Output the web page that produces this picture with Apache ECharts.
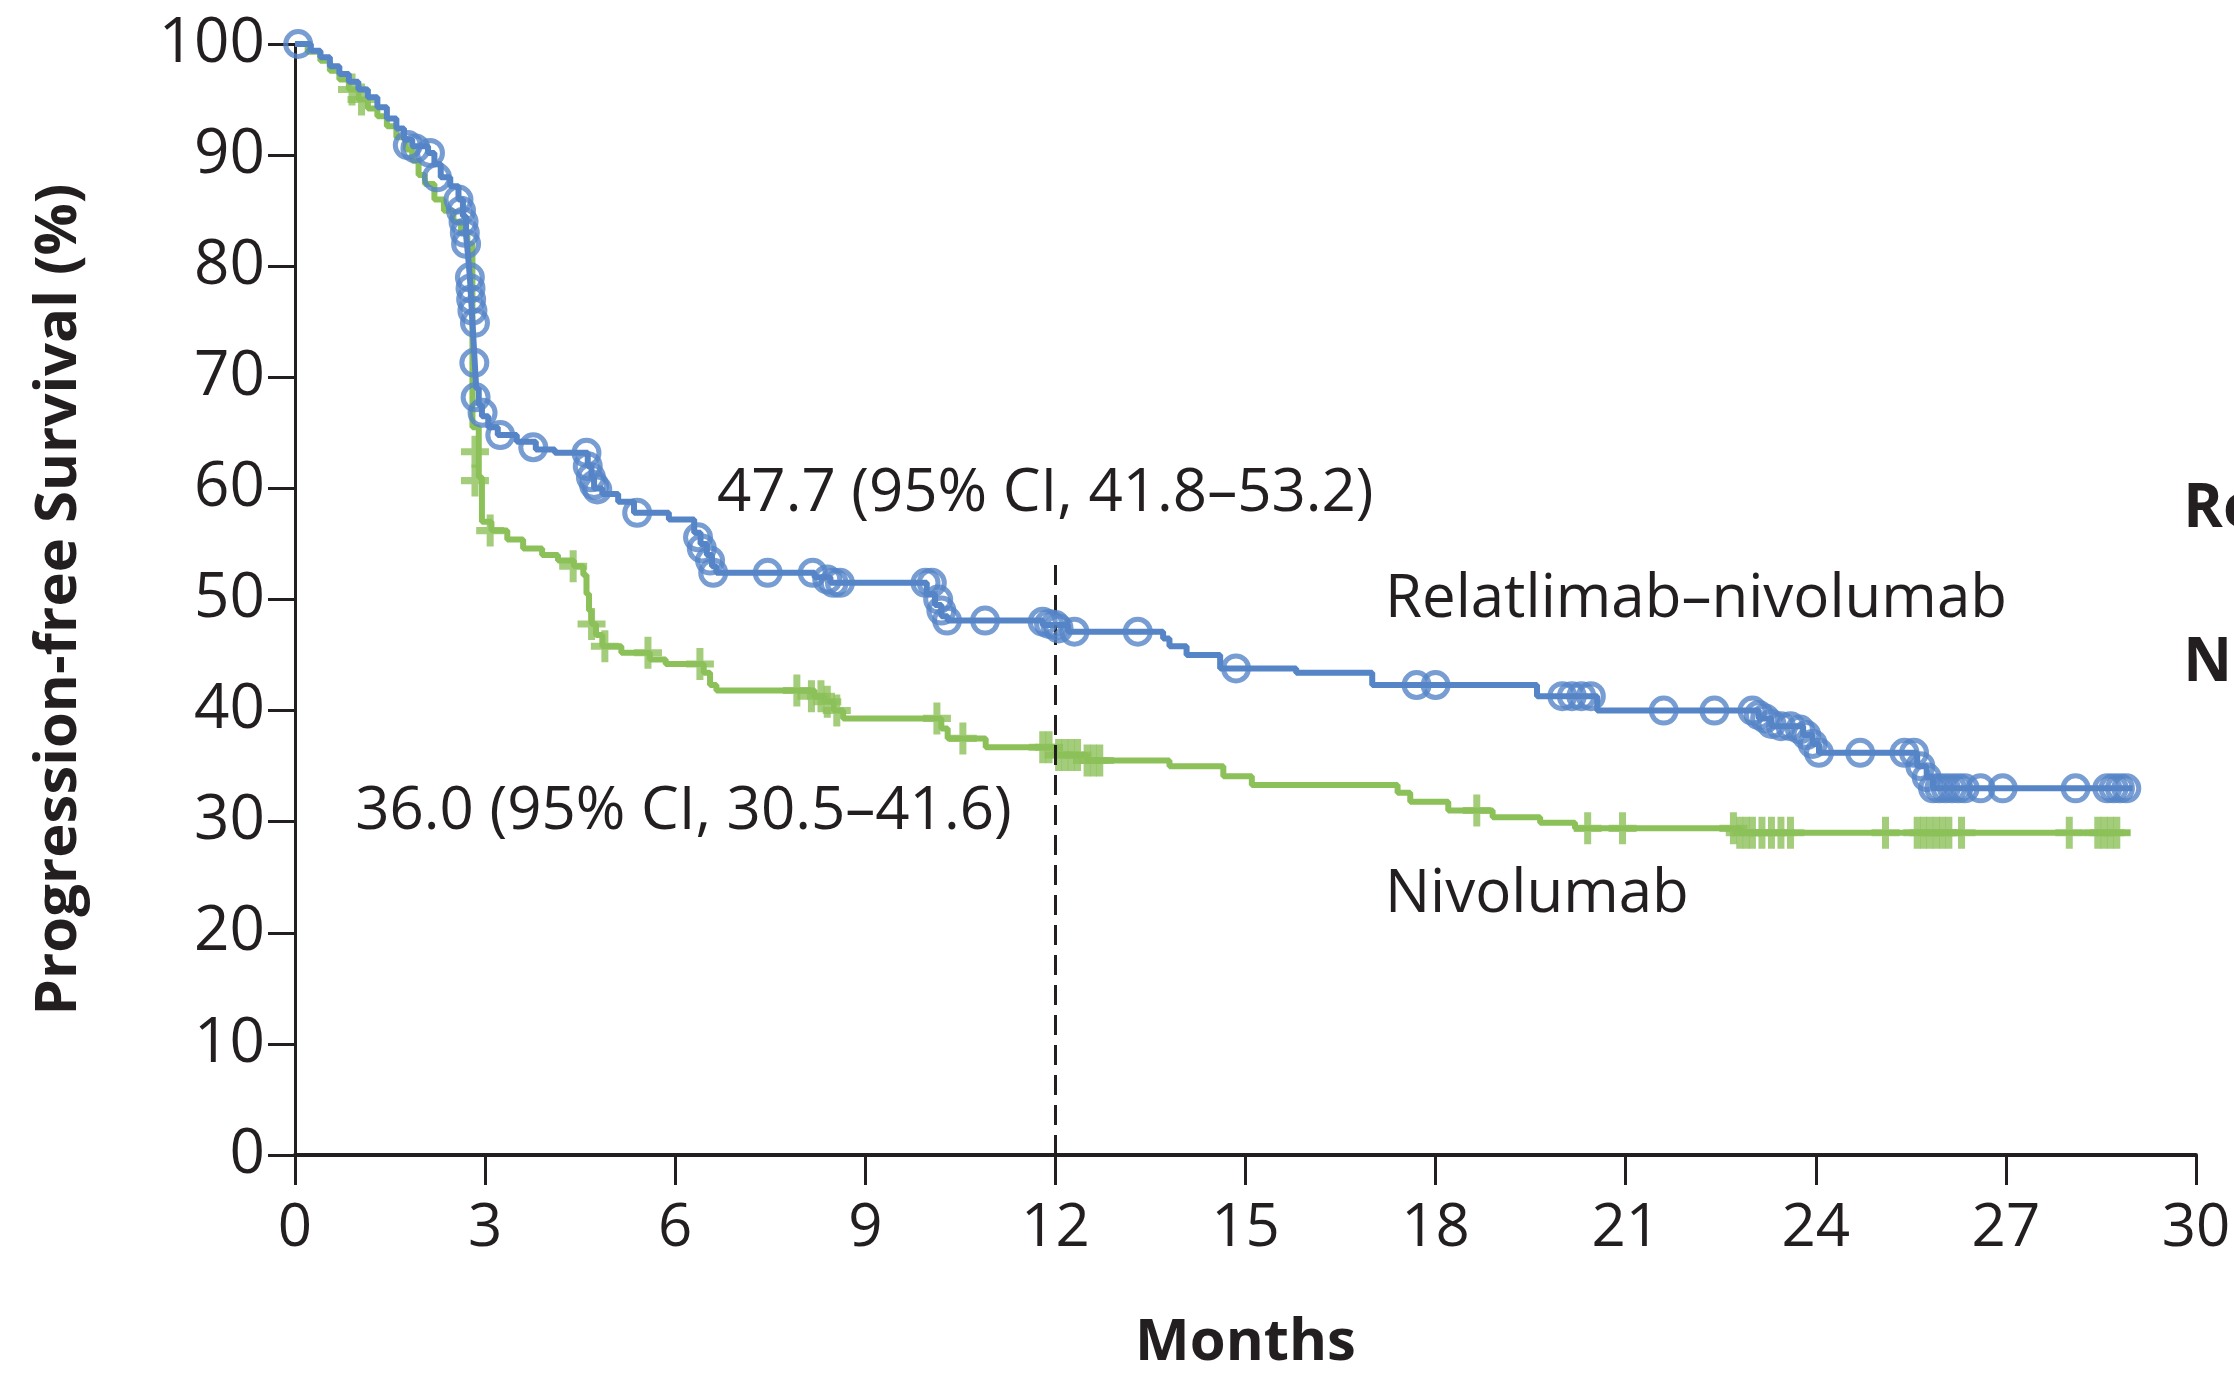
<!DOCTYPE html>
<html>
<head>
<meta charset="utf-8">
<title>Progression-free Survival</title>
<script src="https://cdn.jsdelivr.net/npm/echarts@6/dist/echarts.min.js"></script>
<style>
  html, body { margin: 0; padding: 0; background: #fff; }
  #chart { width: 2234px; height: 1378px; }
</style>
</head>
<body>
<div id="chart"></div>
<script>
// Kaplan-Meier steps: [month, survival %] - survival drops to the value at that month
const relaSteps = [
  [0, 100], [0.25, 99.4], [0.4, 98.8], [0.55, 98.0], [0.7, 97.3], [0.85, 96.6],
  [1.0, 95.9], [1.15, 95.2], [1.3, 94.3], [1.45, 93.3], [1.6, 92.4], [1.72, 91.4],
  [1.85, 90.8], [2.1, 90.2], [2.2, 89.2], [2.3, 88.0], [2.45, 87.2], [2.58, 86.0],
  [2.65, 84.5], [2.7, 82.8], [2.73, 81.0], [2.76, 79.0], [2.78, 77.0], [2.8, 75.0],
  [2.82, 73.0], [2.84, 71.0], [2.86, 69.0], [2.9, 67.5], [2.95, 66.5], [3.05, 65.5],
  [3.2, 64.8], [3.5, 64.2], [3.8, 63.5], [4.1, 63.2], [4.62, 62.0], [4.68, 61.0],
  [4.72, 60.0], [4.85, 59.5], [5.1, 58.8], [5.35, 57.8], [5.9, 57.2], [6.3, 56.0],
  [6.4, 55.0], [6.5, 54.0], [6.58, 53.0], [6.65, 52.4], [8.2, 52.0], [8.45, 51.5],
  [9.97, 50.5], [10.1, 49.5], [10.2, 48.5], [10.3, 48.1], [11.8, 47.7], [12.2, 47.1],
  [13.7, 46.5], [13.8, 45.8], [14.07, 45.0], [14.6, 43.8], [15.8, 43.4], [17.0, 42.3],
  [19.6, 41.3], [20.55, 40.0], [23.1, 39.3], [23.3, 38.6], [23.8, 37.8], [23.95, 37.0],
  [24.05, 36.2], [25.6, 35.0], [25.75, 34.0], [25.85, 33.0], [29.0, 33.0]
];
const relaCensored = [
  [0.05, 100], [1.78, 90.9], [1.9, 90.6], [2.13, 90.2], [2.24, 88.0], [2.58, 86.0],
  [2.62, 85.0], [2.66, 84.0], [2.68, 83.0], [2.7, 82.0], [2.76, 79.0], [2.77, 78.0],
  [2.78, 77.0], [2.8, 76.0], [2.84, 74.9], [2.83, 71.3], [2.85, 68.2], [2.96, 66.8],
  [3.24, 64.8], [3.76, 63.7], [4.6, 63.2], [4.62, 62.0], [4.67, 61.0], [4.72, 60.3],
  [4.77, 59.9], [5.4, 57.8], [6.36, 55.6], [6.42, 54.6], [6.55, 53.5], [6.6, 52.4],
  [7.46, 52.4], [8.17, 52.4], [8.4, 51.8], [8.5, 51.5], [8.6, 51.5], [9.95, 51.5],
  [10.05, 51.5], [10.15, 50.0], [10.2, 49.0], [10.29, 48.1], [10.89, 48.1], [11.8, 48.0],
  [11.9, 47.8], [12.0, 47.7], [12.05, 47.4], [12.3, 47.1], [13.3, 47.1], [14.85, 43.8],
  [17.7, 42.3], [18.0, 42.3], [20.0, 41.3], [20.15, 41.3], [20.3, 41.3], [20.45, 41.3],
  [21.6, 40.0], [22.4, 40.0], [23.0, 40.0], [23.1, 39.6], [23.2, 39.3], [23.3, 38.8],
  [23.45, 38.6], [23.6, 38.6], [23.75, 38.3], [23.85, 37.8], [23.95, 37.0], [24.05, 36.2],
  [24.7, 36.2], [25.4, 36.2], [25.55, 36.2], [25.65, 35.0], [25.75, 34.0], [25.85, 33.0],
  [25.95, 33.0], [26.05, 33.0], [26.15, 33.0], [26.25, 33.0], [26.35, 33.0], [26.6, 33.0],
  [26.95, 33.0], [28.1, 33.0], [28.6, 33.0], [28.7, 33.0], [28.8, 33.0], [28.9, 33.0]
];
const nivoSteps = [
  [0, 100], [0.2, 99.3], [0.4, 98.5], [0.55, 97.6], [0.7, 96.8], [0.85, 95.9],
  [1.0, 95.0], [1.15, 94.2], [1.3, 93.5], [1.45, 92.6], [1.6, 91.6], [1.75, 90.5],
  [1.85, 89.5], [1.95, 88.2], [2.05, 87.4], [2.2, 86.0], [2.35, 85.0], [2.5, 84.0],
  [2.62, 83.0], [2.72, 82.0], [2.8, 65.5], [2.9, 61.0], [2.95, 57.0], [3.1, 56.2],
  [3.35, 55.4], [3.6, 54.6], [3.9, 54.0], [4.15, 53.5], [4.4, 53.0], [4.55, 52.2],
  [4.6, 50.5], [4.64, 49.0], [4.68, 47.8], [4.75, 46.8], [4.85, 45.8], [5.15, 45.2],
  [5.6, 44.6], [5.85, 44.2], [6.45, 43.4], [6.55, 42.3], [6.65, 41.8], [8.2, 41.3],
  [8.35, 40.8], [8.5, 40.0], [8.65, 39.3], [10.2, 38.4], [10.3, 37.5], [10.9, 36.7],
  [12.0, 36.0], [12.5, 35.5], [13.8, 35.0], [14.65, 34.1], [15.1, 33.3], [17.4, 32.6],
  [17.6, 31.8], [18.2, 31.0], [18.9, 30.4], [19.65, 29.9], [20.2, 29.4], [22.8, 29.0],
  [28.96, 29.0]
];
const nivoCensored = [
  [0.9, 95.9], [1.05, 95.0], [2.84, 63.3], [2.84, 60.7], [3.08, 56.2], [4.39, 53.0],
  [4.68, 47.8], [4.89, 45.8], [5.57, 45.2], [6.39, 44.2], [7.92, 41.8], [8.15, 41.3],
  [8.3, 41.3], [8.4, 40.8], [8.55, 40.0], [10.13, 39.3], [10.54, 37.5], [11.8, 36.7],
  [11.9, 36.7], [12.05, 36.0], [12.15, 36.0], [12.25, 36.0], [12.35, 36.0], [12.5, 35.5],
  [12.6, 35.5], [12.7, 35.5], [18.65, 31.0], [20.4, 29.4], [20.95, 29.4], [22.7, 29.4],
  [22.8, 29.0], [22.9, 29.0], [23.0, 29.0], [23.15, 29.0], [23.3, 29.0], [23.45, 29.0],
  [23.6, 29.0], [25.1, 29.0], [25.6, 29.0], [25.7, 29.0], [25.8, 29.0], [25.9, 29.0],
  [26.0, 29.0], [26.1, 29.0], [26.3, 29.0], [28.0, 29.0], [28.45, 29.0], [28.55, 29.0],
  [28.65, 29.0], [28.75, 29.0]
];
const landmarkMonth = 12;
const landmarkTop = 53.8;

// text labels anchored at [month, %] (left edge, vertical middle)
const curveLabels = [
  { text: '47.7 (95% CI, 41.8–53.2)', at: [6.66, 59.5], bold: false },
  { text: '36.0 (95% CI, 30.5–41.6)', at: [0.95, 30.9], bold: false },
  { text: 'Relatlimab–nivolumab', at: [17.2, 50.0], bold: false },
  { text: 'Nivolumab', at: [17.2, 23.4], bold: false },
  { text: 'Relatlimab–nivolumab', at: [29.8, 58.1], bold: true },
  { text: 'Nivolumab', at: [29.8, 44.2], bold: true }
];

const INK = '#231f20';
const BLUE = '#5584c7';
const GREEN = '#8cc15a';
const FONT = 'Open Sans';
const PLUS = 'path://M3.75,0 H6.25 V10 H3.75 Z M0,3.9 H10 V6.1 H0 Z';

const chart = echarts.init(document.getElementById('chart'));

chart.setOption({
  animation: false,
  backgroundColor: '#fff',
  grid: { left: 295, right: 38, top: 44, bottom: 223, outerBoundsMode: 'none' },
  xAxis: {
    type: 'value',
    min: 0,
    max: 30,
    interval: 3,
    name: 'Months',
    nameLocation: 'middle',
    nameGap: 159,
    nameTextStyle: { color: INK, fontSize: 58, fontWeight: 'bold', fontFamily: FONT },
    axisLine: { lineStyle: { color: INK, width: 4 } },
    axisTick: { length: 30, lineStyle: { color: INK, width: 3 } },
    axisLabel: { color: INK, fontSize: 60, fontFamily: FONT, margin: 44 },
    splitLine: { show: false }
  },
  yAxis: {
    type: 'value',
    min: 0,
    max: 100,
    interval: 10,
    name: 'Progression-free Survival (%)',
    nameLocation: 'middle',
    nameGap: 207,
    nameTextStyle: { color: INK, fontSize: 58, fontWeight: 'bold', fontFamily: FONT },
    axisLine: { lineStyle: { color: INK, width: 3 } },
    axisTick: { length: 27, lineStyle: { color: INK, width: 3 } },
    axisLabel: { color: INK, fontSize: 62, fontFamily: FONT, margin: 30 },
    splitLine: { show: false }
  },
  series: [
    {
      name: 'Nivolumab',
      type: 'line',
      step: 'end',
      data: nivoSteps,
      showSymbol: false,
      lineStyle: { color: GREEN, width: 6 },
      markLine: {
        silent: true,
        symbol: 'none',
        label: { show: false },
        lineStyle: { color: INK, width: 3, type: [20, 10] },
        data: [[{ coord: [landmarkMonth, 0] }, { coord: [landmarkMonth, landmarkTop] }]]
      },
      z: 2
    },
    {
      name: 'Nivolumab censored',
      type: 'scatter',
      data: nivoCensored,
      symbol: PLUS,
      symbolSize: [28, 32],
      itemStyle: { color: GREEN },
      z: 3
    },
    {
      name: 'Relatlimab–nivolumab',
      type: 'line',
      step: 'end',
      data: relaSteps,
      showSymbol: false,
      lineStyle: { color: BLUE, width: 6 },
      z: 4
    },
    {
      name: 'Relatlimab–nivolumab censored',
      type: 'scatter',
      data: relaCensored,
      symbol: 'circle',
      symbolSize: 25,
      itemStyle: { color: 'transparent', borderColor: BLUE, borderWidth: 5 },
      z: 5
    }
  ]
});

// place the curve labels in data space once the grid exists
const toPx = p => chart.convertToPixel({ gridIndex: 0 }, p);
chart.setOption({
  graphic: curveLabels.map(l => {
    const [x, y] = toPx(l.at);
    return {
      type: 'text',
      x,
      y,
      silent: true,
      style: {
        text: l.text,
        fill: INK,
        fontSize: 60,
        fontWeight: l.bold ? 'bold' : 'normal',
        fontFamily: FONT,
        align: 'left',
        verticalAlign: 'middle'
      }
    };
  })
});
</script>
</body>
</html>
